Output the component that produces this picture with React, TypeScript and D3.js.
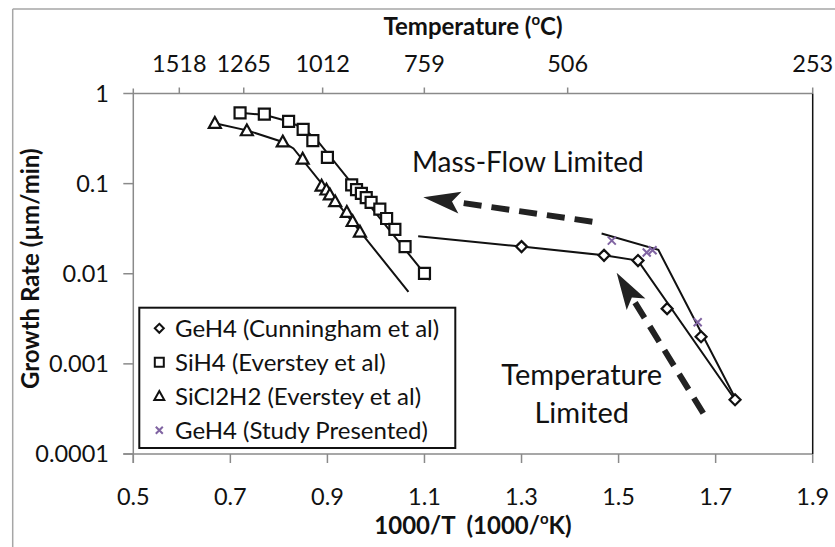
import React from "react";
import * as d3 from "d3";

// ---------- data ----------
const xTicks = [0.5, 0.7, 0.9, 1.1, 1.3, 1.5, 1.7, 1.9];
const yTicks = [1, 0.1, 0.01, 0.001, 0.0001];
const yTickLabels = ["1", "0.1", "0.01", "0.001", "0.0001"];
const tempTicks = [1518, 1265, 1012, 759, 506, 253];

// GeH4 (Cunningham et al)
const gehX = [1.3, 1.47, 1.54, 1.6, 1.67, 1.74];
const gehY = [0.02, 0.016, 0.014, 0.0041, 0.002, 0.0004];
const gehFitX = [1.087, 1.3, 1.47, 1.54, 1.74];
const gehFitY = [0.026, 0.02, 0.016, 0.014, 0.0004];

// SiH4 (Everstey et al)
const sihX = [0.72, 0.77, 0.82, 0.85, 0.87, 0.9, 0.95, 0.96, 0.97, 0.98, 0.99, 1.008, 1.022, 1.039, 1.06, 1.1];
const sihY = [0.61, 0.59, 0.49, 0.4, 0.3, 0.196, 0.097, 0.086, 0.078, 0.07, 0.062, 0.052, 0.041, 0.031, 0.02, 0.0101];
const sihFitX = [0.72, 0.77, 0.82, 0.85, 0.878, 1.111];
const sihFitY = [0.61, 0.58, 0.49, 0.41, 0.305, 0.0085];

// SiCl2H2 (Everstey et al)
const sicX = [0.668, 0.734, 0.808, 0.849, 0.888, 0.898, 0.905, 0.916, 0.94, 0.952, 0.967];
const sicY = [0.467, 0.386, 0.29, 0.187, 0.094, 0.085, 0.075, 0.063, 0.048, 0.038, 0.029];
const sicFitX = [0.668, 0.734, 0.808, 0.83, 1.067];
const sicFitY = [0.467, 0.39, 0.29, 0.246, 0.0063];

// GeH4 (Study Presented)
const studyX = [1.486, 1.558, 1.57, 1.663];
const studyY = [0.0233, 0.0172, 0.0182, 0.0029];
const studyFitX = [1.465, 1.582, 1.742];
const studyFitY = [0.028, 0.0184, 0.0004];

const legendLabels = [
  "GeH4 (Cunningham et al)",
  "SiH4 (Everstey et al)",
  "SiCl2H2 (Everstey et al)",
  "GeH4 (Study Presented)",
];

// annotation arrows (data coordinates: tail -> tip)
const arrowTails = [[1.446, 0.0378], [1.6745, 0.000283]];
const arrowTips = [[1.0976, 0.0705], [1.496, 0.01027]];

// ---------- layout ----------
const W = 835;
const H = 547;
const L = 133.3, R = 812.7, T = 93.5, B = 454;
const FONT = "Lato, 'Open Sans', sans-serif";
const PURPLE = "#8064A2";
const AXIS = "#8a8a8a";

const x = d3.scaleLinear().domain([0.5, 1.9]).range([L, R]);
const y = d3.scaleLog().domain([0.0001, 1]).range([B, T]);
const tScale = d3.scaleLog().domain([1729, 253]).range([L, R]);

const pts = (xs: number[], ys: number[]) => xs.map((v, i) => [v, ys[i]] as [number, number]);
const line = d3.line<[number, number]>().x(d => x(d[0])).y(d => y(d[1]));

const diamond = (cx: number, cy: number, r: number) =>
  `M${cx},${cy - r}L${cx + r},${cy}L${cx},${cy + r}L${cx - r},${cy}Z`;
const square = (cx: number, cy: number, r: number) =>
  `M${cx - r},${cy - r}h${2 * r}v${2 * r}h${-2 * r}Z`;
const triangle = (cx: number, cy: number, r: number) =>
  `M${cx},${cy - r * 1.05}L${cx + r},${cy + r * 0.75}L${cx - r},${cy + r * 0.75}Z`;
const cross = (cx: number, cy: number, r: number) =>
  `M${cx - r},${cy - r}L${cx + r},${cy + r}M${cx - r},${cy + r}L${cx + r},${cy - r}`;

function Arrow({ tail, tip }: { tail: number[]; tip: number[] }) {
  const x1 = x(tail[0]), y1 = y(tail[1]);
  const x2 = x(tip[0]), y2 = y(tip[1]);
  const dx = x2 - x1, dy = y2 - y1;
  const len = Math.hypot(dx, dy);
  const ux = dx / len, uy = dy / len;
  const headLen = 37, headW = 11;
  const bx = x2 - ux * headLen, by = y2 - uy * headLen;
  const px = -uy, py = ux;
  return (
    <g>
      <line x1={x1} y1={y1} x2={bx + ux * 2} y2={by + uy * 2} stroke="#222" strokeWidth={6} strokeDasharray="18 10" />
      <path d={`M${x2},${y2}L${bx + px * headW},${by + py * headW}L${bx + ux * 8},${by + uy * 8}L${bx - px * headW},${by - py * headW}Z`} fill="#222" />
    </g>
  );
}

export default function App() {
  const legendY = [328.3, 362.3, 396.3, 430.3];
  return (
    <svg width={W} height={H} style={{ position: "absolute", left: 0, top: 0, background: "#fff" }} fontFamily={FONT}>
      <rect x={0} y={0} width={W} height={H} fill="#fff" />
      {/* outer frame */}
      <line x1={12.7} y1={9} x2={12.7} y2={H} stroke="#a6a6a6" strokeWidth={1.5} />
      <line x1={12.7} y1={9} x2={W} y2={9} stroke="#a6a6a6" strokeWidth={1.5} />

      {/* axes */}
      <line x1={L} y1={T} x2={R} y2={T} stroke={AXIS} strokeWidth={1.5} />
      <line x1={L - 10} y1={B} x2={R} y2={B} stroke={AXIS} strokeWidth={1.5} />
      <line x1={L} y1={T - 5} x2={L} y2={B + 9} stroke={AXIS} strokeWidth={1.5} />
      <line x1={R} y1={T} x2={R} y2={B} stroke="#111" strokeWidth={1.5} />
      {yTicks.map((v, i) => (
        <g key={"yt" + i}>
          <line x1={L - 10} x2={L} y1={y(v)} y2={y(v)} stroke={AXIS} strokeWidth={1.5} />
          <text x={109} y={y(v)} dy="0.36em" textAnchor="end" fontSize={23.5} fill="#111">{yTickLabels[i]}</text>
        </g>
      ))}
      {xTicks.map((v, i) => (
        <g key={"xt" + i}>
          <line x1={x(v)} x2={x(v)} y1={B} y2={B + 9} stroke={AXIS} strokeWidth={1.5} />
          <text x={x(v)} y={505} textAnchor="middle" fontSize={23.5} fill="#111">{v.toFixed(1)}</text>
        </g>
      ))}
      {tempTicks.map((v, i) => (
        <g key={"tt" + i}>
          <line x1={tScale(v)} x2={tScale(v)} y1={T - 6} y2={T} stroke={AXIS} strokeWidth={1.5} />
          <text x={tScale(v)} y={72} textAnchor="middle" fontSize={23.5} fill="#111">{v}</text>
        </g>
      ))}

      {/* axis titles */}
      <text x={(L + R) / 2} y={35} textAnchor="middle" fontSize={24} fontWeight="bold" fill="#111">
        Temperature (<tspan fontSize={15} dy={-10}>o</tspan><tspan dy={10}>C)</tspan>
      </text>
      <text x={(L + R) / 2} y={534} textAnchor="middle" fontSize={24} fontWeight="bold" fill="#111">
        {"1000/T\u00a0\u00a0(1000/"}<tspan fontSize={15} dy={-10}>o</tspan><tspan dy={10}>K)</tspan>
      </text>
      <text transform={`translate(39,${(T + B) / 2 - 5}) rotate(-90)`} textAnchor="middle" fontSize={24} fontWeight="bold" fill="#111">
        Growth Rate (µm/min)
      </text>

      {/* fit lines */}
      <g fill="none" stroke="#111" strokeWidth={2}>
        <path d={line(pts(sihFitX, sihFitY)) || ""} />
        <path d={line(pts(sicFitX, sicFitY)) || ""} />
        <path d={line(pts(gehFitX, gehFitY)) || ""} />
        <path d={line(pts(studyFitX, studyFitY)) || ""} />
      </g>

      {/* markers */}
      <g fill="#fff" stroke="#111" strokeWidth={2.2}>
        {pts(sihX, sihY).map((d, i) => <path key={"s" + i} d={square(x(d[0]), y(d[1]), 5.5)} />)}
        {pts(sicX, sicY).map((d, i) => <path key={"t" + i} d={triangle(x(d[0]), y(d[1]), 6)} />)}
        {pts(gehX, gehY).map((d, i) => <path key={"d" + i} d={diamond(x(d[0]), y(d[1]), 5.5)} />)}
      </g>
      <g fill="none" stroke={PURPLE} strokeWidth={2}>
        {pts(studyX, studyY).map((d, i) => <path key={"c" + i} d={cross(x(d[0]), y(d[1]), 4)} />)}
      </g>

      {/* annotations */}
      {arrowTails.map((t, i) => <Arrow key={"a" + i} tail={t} tip={arrowTips[i]} />)}
      <text x={x(1.313)} y={y(0.1346)} textAnchor="middle" fontSize={28} fill="#111">Mass-Flow Limited</text>
      <text x={x(1.424)} y={y(0.000583)} textAnchor="middle" fontSize={29} fill="#111">Temperature</text>
      <text x={x(1.424)} y={y(0.000219)} textAnchor="middle" fontSize={29} fill="#111">Limited</text>

      {/* legend */}
      <rect x={139.3} y={307.7} width={316} height={140.3} fill="#fff" stroke="#111" strokeWidth={2} />
      {legendLabels.map((lab, i) => {
        const cy = legendY[i];
        const mx = 159.3;
        let mk;
        if (i === 0) mk = <path d={diamond(mx, cy, 4.5)} fill="#fff" stroke="#111" strokeWidth={2} />;
        else if (i === 1) mk = <path d={square(mx, cy, 4.5)} fill="#fff" stroke="#111" strokeWidth={2} />;
        else if (i === 2) mk = <path d={triangle(mx, cy, 5)} fill="#fff" stroke="#111" strokeWidth={2} />;
        else mk = <path d={cross(mx, cy, 3.5)} fill="none" stroke={PURPLE} strokeWidth={2} />;
        return (
          <g key={"lg" + i}>
            {mk}
            <text x={175} y={cy} dy="0.36em" fontSize={24} fill="#111">{lab}</text>
          </g>
        );
      })}
    </svg>
  );
}
